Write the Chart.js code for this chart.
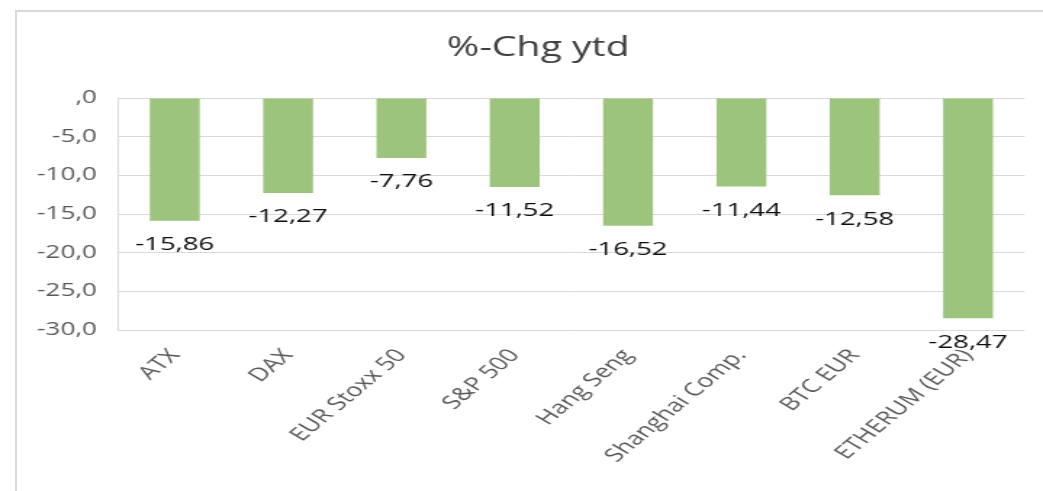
<!DOCTYPE html>
<html><head><meta charset="utf-8">
<script src="https://cdn.jsdelivr.net/npm/chart.js@4/dist/chart.umd.min.js"></script>
<style>
html,body{margin:0;padding:0;background:#fff;overflow:hidden;width:1043px;height:491px;}
#frame{position:absolute;left:15px;top:10px;width:1040px;height:490px;border-left:2px solid #d9d9d9;border-top:2px solid #d9d9d9;}
#wrap{position:absolute;left:0;top:0;width:719px;height:491px;transform:scaleX(1.4506);transform-origin:0 0;}
</style></head><body>
<div id="frame"></div>
<div id="wrap"><canvas id="c"></canvas></div>
<script>
const chartTitle = '%-Chg ytd';
const categories = ['ATX', 'DAX', 'EUR Stoxx 50', 'S&P 500', 'Hang Seng', 'Shanghai Comp.', 'BTC EUR', 'ETHERUM (EUR)'];
const values = [-15.86, -12.27, -7.76, -11.52, -16.52, -11.44, -12.58, -28.47];
const yTickValues = [0, -5, -10, -15, -20, -25, -30];
const yTickLabels = [',0', '-5,0', '-10,0', '-15,0', '-20,0', '-25,0', '-30,0'];

function fmt(v){ return v.toFixed(2).replace('.', ','); }

const valueLabels = {
  id: 'valueLabels',
  afterLayout(chart){
    // let the y tick labels use the space to the left of the axis box
    chart.scales.y.left = 0;
  },
  afterDatasetsDraw(chart){
    const ctx = chart.ctx;
    const meta = chart.getDatasetMeta(0);
    ctx.save();
    ctx.font = '19px "Open Sans"';
    ctx.fillStyle = '#0d0d0d';
    ctx.textAlign = 'center';
    ctx.textBaseline = 'middle';
    meta.data.forEach((bar, i) => {
      ctx.fillText(fmt(values[i]), bar.x, bar.y + 24);
    });
    ctx.restore();
  }
};

new Chart(document.getElementById('c'), {
  type: 'bar',
  data: {
    labels: categories,
    datasets: [{
      data: values,
      backgroundColor: '#9dc47d',
      borderWidth: 0,
      barPercentage: 0.44,
      categoryPercentage: 1
    }]
  },
  options: {
    responsive: true,
    maintainAspectRatio: false,
    animation: false,
    layout: { padding: { left: 35.7, right: 12.6, top: 0, bottom: 0 } },
    plugins: {
      legend: { display: false },
      tooltip: { enabled: false },
      title: {
        display: true,
        text: chartTitle,
        color: '#404040',
        font: { family: 'Open Sans', size: 27, weight: 'normal', lineHeight: 1.2 },
        padding: { top: 32, bottom: 33.6 }
      }
    },
    scales: {
      y: {
        min: -30, max: 0,
        afterFit(s){ s.width = 45.7; },
        ticks: {
          stepSize: 5,
          color: '#595959',
          font: { family: 'Open Sans', size: 18 },
          padding: 14.5,
          callback(v){ const i = yTickValues.indexOf(v); return i >= 0 ? yTickLabels[i] : ''; }
        },
        grid: { color: '#d9d9d9', drawTicks: false },
        border: { color: '#d9d9d9' }
      },
      x: {
        afterFit(s){ s.height = 161; },
        grid: { display: false, drawTicks: false },
        border: { display: false },
        ticks: {
          autoSkip: false,
          minRotation: 50, maxRotation: 50,
          color: '#595959',
          font: { family: 'Open Sans', size: 18.5 },
          padding: 15
        }
      }
    }
  },
  plugins: [valueLabels]
});
</script>
</body></html>
